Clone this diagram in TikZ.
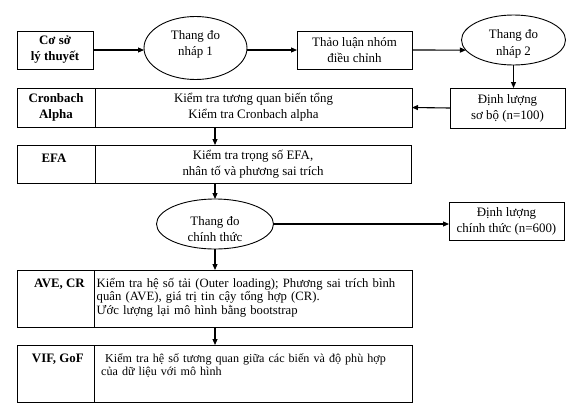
\documentclass[tikz,border=0pt]{standalone}
\usepackage{fontspec}
\setmainfont{Liberation Serif}
\usetikzlibrary{shapes.geometric,arrows.meta}
\begin{document}
\begin{tikzpicture}[x=1pt,y=-1pt,
  box/.style={draw,line width=0.9pt,inner sep=0pt,outer sep=0pt,align=center,font=\fontsize{12.9}{16}\selectfont},
  bbox/.style={box,font=\bfseries\fontsize{12.9}{16}\selectfont},
  oval/.style={ellipse,draw,line width=0.9pt,inner sep=0pt,outer sep=0pt},
  otxt/.style={inner sep=0pt,align=center,font=\fontsize{12.9}{16.5}\selectfont},
  lbl/.style={inner sep=0pt,font=\bfseries\fontsize{12.9}{16}\selectfont},
  para/.style={inner sep=0pt,align=left,text width=315pt,font=\fontsize{12.7}{13.6}\selectfont},
  arr/.style={line width=1.1pt,-{Triangle[length=6pt,width=5pt]}}]
\useasboundingbox (0,0) rectangle (583,418);
% top row
\node[bbox,minimum width=76pt,minimum height=38pt] (cs) at (55,50) {Cơ sở\\lý thuyết};
\node[oval,minimum width=103pt,minimum height=63pt] (e1) at (195.5,48) {};
\node[otxt] (e1t) at (195.5,44.5) {Thang đo\\nháp 1};
\node[box,minimum width=115pt,minimum height=38pt] (tl) at (354.5,50) {Thảo luận nhóm\\điều chỉnh};
\node[oval,minimum width=104pt,minimum height=50pt] (e2) at (513.5,40) {};
\node[otxt] (e2t) at (513.5,44) {Thang đo\\nháp 2};
\node[box,minimum width=115pt,minimum height=40pt] (sb) at (507.5,108) {Định lượng\\sơ bộ (n=100)};
% Cronbach
\node[bbox,minimum width=78pt,minimum height=39pt] (cl) at (56,107.5) {Cronbach\\Alpha};
\node[box,minimum width=317pt,minimum height=39pt] (cr) at (253.5,107.5) {Kiểm tra tương quan biến tổng\\Kiểm tra Cronbach alpha};
% EFA
\node[box,minimum width=78pt,minimum height=38pt] (el) at (56,164) {};
\node[lbl] (elt) at (54,158) {EFA};
\node[box,minimum width=316pt,minimum height=38pt] (er) at (253,164) {Kiểm tra trọng số EFA,\\nhân tố và phương sai trích};
% official scale
\node[oval,minimum width=117pt,minimum height=50pt] (e3) at (215,224) {};
\node[otxt] (e3t) at (215,229) {Thang đo\\chính thức};
\node[box,minimum width=115pt,minimum height=38pt] (ct) at (506.5,221) {Định lượng\\chính thức (n=600)};
% AVE
\node[box,minimum width=77pt,minimum height=57pt] (al) at (55.5,298.5) {};
\node[box,minimum width=318pt,minimum height=57pt] (ar) at (253,298.5) {};
\node[lbl,anchor=base east] (alt) at (85,287.5) {AVE, CR};
\node[para,anchor=base west] (art) at (96.5,287) {Kiểm tra hệ số tải (Outer loading); Phương sai trích bình\\quân (AVE), giá trị tin cậy tổng hợp (CR).\\Ước lượng lại mô hình bằng bootstrap};
% VIF
\node[box,minimum width=77pt,minimum height=57pt] (vl) at (55.5,373.5) {};
\node[box,minimum width=318pt,minimum height=57pt] (vr) at (253,373.5) {};
\node[lbl,anchor=base east] (vlt) at (84,362.5) {VIF, GoF};
\node[para,anchor=base west,font=\fontsize{12.1}{13.2}\selectfont] (vrt) at (101,362) {\hspace*{4pt}Kiểm tra hệ số tương quan giữa các biến và độ phù hợp\\của dữ liệu với mô hình};
% arrows
\draw[arr] (cs.east) -- (cs.east -| e1.west);
\draw[arr] (e1.east |- tl.west) -- (tl.west);
\draw[arr] (tl.east) -- (e2.192);
\draw[arr] (e2.south) -- (e2.south |- sb.north);
\draw[arr] (sb.west) -- (cr.east);
\draw[arr] (e3.north |- cr.south) -- (e3.north |- er.north);
\draw[arr] (e3.north |- er.south) -- (e3.north);
\draw[arr] (e3.east) -- (e3.east -| ct.west);
\draw[arr] (e3.south) -- (e3.south |- ar.north);
\draw[arr] (e3.south |- ar.south) -- (e3.south |- vr.north);
\end{tikzpicture}
\end{document}
